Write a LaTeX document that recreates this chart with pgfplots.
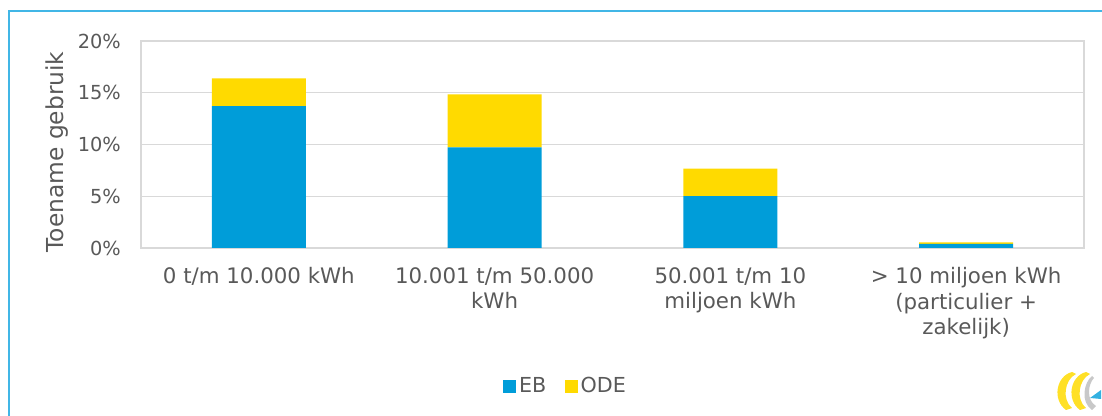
\documentclass[border=0pt]{standalone}
\usepackage{fontspec}
\setmainfont{DejaVu Sans}
\usepackage{pgfplots}
\pgfplotsset{compat=1.18}
\usetikzlibrary{calc}
\definecolor{ebblue}{HTML}{009DD9}
\definecolor{odeyellow}{HTML}{FFDA00}
\definecolor{txt}{HTML}{595959}
\definecolor{gridc}{HTML}{D9D9D9}
\definecolor{frameblue}{HTML}{41B6E6}
\definecolor{logogray}{HTML}{C8C8C8}
\begin{document}
\begin{tikzpicture}
\begin{axis}[
  scale only axis,
  width=707.25pt, height=155.25pt,
  ybar stacked,
  bar width=70.5pt,
  xmin=-0.5, xmax=3.5,
  ymin=0, ymax=20,
  xtick={0,1,2,3},
  xticklabels={{0 t/m 10.000 kWh},{10.001 t/m 50.000\\kWh},{50.001 t/m 10\\miljoen kWh},{> 10 miljoen kWh\\(particulier +\\zakelijk)}},
  xticklabel style={font=\fontsize{16}{19.1}\selectfont, text=txt, align=center, inner sep=0pt, anchor=north, yshift=-14.5pt},
  ytick={0,5,10,15,20},
  yticklabels={0\%,5\%,10\%,15\%,20\%},
  yticklabel style={font=\fontsize{14.5}{16}\selectfont, text=txt, inner sep=0pt, anchor=east, xshift=-15pt},
  major tick length=0pt,
  tick style={draw=none},
  ymajorgrids,
  major grid style={draw=gridc, line width=0.9pt},
  axis line style={draw=gridc, line width=0.9pt},
  ylabel={Toename gebruik},
  ylabel style={font=\fontsize{17.5}{20}\selectfont, text=txt, at={(rel axis cs:-0.0891,0.464)}, anchor=center, rotate=0},
  legend style={draw=none, fill=none, at={(rel axis cs:0.4507,-0.667)}, anchor=center, legend columns=2, font=\fontsize{15.5}{18}\selectfont, text=txt, /tikz/every even column/.append style={column sep=12pt}},
  legend cell align=left,
]
\addplot[fill=ebblue, draw=none, legend image code/.code={\fill[ebblue] (0pt,-4.9pt) rectangle (9.75pt,4.9pt);}] coordinates {(0,13.7) (1,9.72) (2,5.02) (3,0.4)};
\addplot[fill=odeyellow, draw=none, legend image code/.code={\fill[odeyellow] (0pt,-4.9pt) rectangle (9.75pt,4.9pt);}] coordinates {(0,2.7) (1,5.12) (2,2.64) (3,0.15)};
\legend{EB,ODE}
\coordinate (O) at (rel axis cs:0,0);
\end{axis}
\begin{scope}[shift={(O)}, x=0.75pt, y=-0.75pt, shift={(-141,-248)}]
\path[use as bounding box] (0,0) rectangle (1102,416);
\draw[frameblue, line width=1.6pt] (9,416) -- (9,11) -- (1102,11);
% logo
\fill[odeyellow!85] (1066,410) .. controls (1052,400) and (1056,376) .. (1072,372) -- (1076,374) .. controls (1064,380) and (1062,400) .. (1072,408) -- cycle;
\fill[odeyellow!85] (1080,410) .. controls (1066,400) and (1070,376) .. (1086,372) -- (1090,374) .. controls (1078,380) and (1076,400) .. (1086,408) -- cycle;
\fill[logogray] (1092,410) .. controls (1080,402) and (1084,382) .. (1092,376) -- (1094,378) .. controls (1088,384) and (1086,400) .. (1096,406) -- cycle;
\fill[ebblue!80] (1090,398) -- (1101,390) -- (1101,399) -- cycle;
\end{scope}
\end{tikzpicture}
\end{document}
